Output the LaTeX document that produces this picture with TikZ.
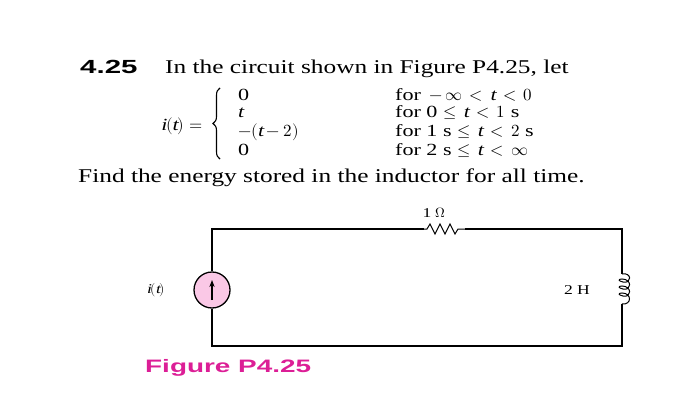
\documentclass[tikz,border=0pt]{standalone}
\usepackage{fontspec}
\setmainfont[FakeStretch=1.3]{Liberation Serif}
\newfontfamily\hsans[FakeStretch=1.55]{Liberation Sans}
\usepackage{unicode-math}
\setmathfont{Latin Modern Math}
\setmathfont[range=it,FakeStretch=1.3]{Liberation Serif Italic}
\usetikzlibrary{arrows.meta,decorations.pathreplacing}
\definecolor{mag}{RGB}{220,30,150}
\definecolor{pinkf}{RGB}{250,200,230}
\tikzset{wire/.style={line width=1.3pt},txt/.style={inner sep=0,anchor=base west,font=\fontsize{19.5}{22}\selectfont},
eq/.style={txt,font=\fontsize{17}{18}\selectfont},small/.style={font=\fontsize{13.5}{14}\selectfont}}
\begin{document}
\begin{tikzpicture}[x=1pt,y=-1pt]
\useasboundingbox (0,0) rectangle (700,414);
\node[txt,font=\hsans\bfseries\fontsize{19}{20}\selectfont] (num) at (80,74) {4.25};
\node[txt] (intro) at (165,74) {In the circuit shown in Figure P4.25, let};
\node[eq,anchor=base east] (it) at (203,131) {$i(t)$ $=$};
\coordinate (bt) at (220,88); \coordinate (bb) at (220,159);
\draw[line width=1.1pt,decorate,decoration={brace,amplitude=7pt,aspect=0.5}] (bb) -- (bt);
\node[eq] (a1) at (238,101) {0};
\node[eq] (a2) at (238,118) {$t$};
\node[eq] (a3) at (238,136) {$-(t-2)$};
\node[eq] (a4) at (238,155) {0};
\node[eq] (b1) at (395,101) {for $\,-\,\infty\,<\,t\,<\,0$};
\node[eq] (b2) at (395,118) {for 0 $\le\, t\,<\,1$ s};
\node[eq] (b3) at (395,136) {for 1 s $\le\, t\,<\,2$ s};
\node[eq] (b4) at (395,155) {for 2 s $\le\, t\,<\,\infty$};
\node[txt] (find) at (78,182) {Find the energy stored in the inductor for all time.};
% circuit
\coordinate (tl) at (212,229); \coordinate (tr) at (622,229);
\coordinate (bl) at (212,346); \coordinate (br) at (622,346);
\coordinate (r1) at (424,229); \coordinate (r2) at (465,229);
\coordinate (l1) at (622,274); \coordinate (l2) at (622,304);
\node[circle,draw,wire,fill=pinkf,minimum size=36pt,inner sep=0] (src) at (212,290) {};
\draw[wire] (src.north) -- (tl) -- (r1);
\draw[line width=1pt] (r1) -- ++(3,0) -- ++(3,-5) -- ++(5,10) -- ++(5,-10) -- ++(5,10) -- ++(5,-10) -- ++(5,10) -- ++(3,-5) -- (r2);
\draw[wire] (r2) -- (tr) -- (l1);
\draw[line width=1pt] (l1)
 .. controls (632,272) and (632,284) .. (623,282)
 .. controls (618,281) and (618,279) .. (622,279)
 .. controls (632,279) and (632,291) .. (623,289)
 .. controls (618,288) and (618,286) .. (622,286)
 .. controls (632,286) and (632,298) .. (623,296)
 .. controls (618,295) and (618,293) .. (622,293)
 .. controls (632,293) and (632,305) .. (622,304) -- (l2);
\draw[wire] (l2) -- (br) -- (bl) -- (src.south);
\draw[line width=1.2pt,-{Stealth[length=7pt]}] ([yshift=-10]src.center) -- ([yshift=10]src.center);
\node[small] (lit) at (156,290) {$i(t)$};
\node[small] (lL) at (577,290) {2 H};
\node[small] (lR) at (434,213) {1 $\Omega$};
\node[txt,font=\hsans\bfseries\fontsize{18}{19}\selectfont,text=mag] (fig) at (145,372) {Figure P4.25};
\end{tikzpicture}
\end{document}
